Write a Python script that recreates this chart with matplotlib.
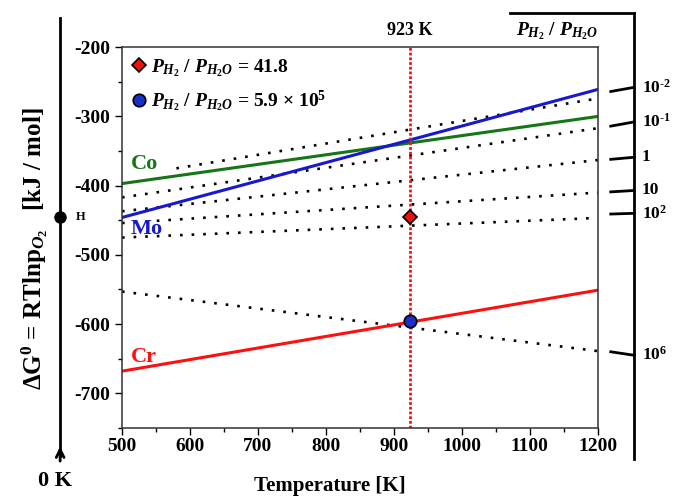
import matplotlib
matplotlib.use('Agg')
from matplotlib import pyplot as plt
from matplotlib.lines import Line2D

plt.rcParams['font.family'] = ['Liberation Serif', 'DejaVu Serif']
plt.rcParams['font.weight'] = 'bold'
plt.rcParams['axes.labelweight'] = 'bold'
plt.rcParams['axes.unicode_minus'] = False
plt.rcParams['mathtext.fontset'] = 'custom'
plt.rcParams['mathtext.rm'] = 'Liberation Serif:bold'
plt.rcParams['mathtext.it'] = 'Liberation Serif:bold:italic'
plt.rcParams['mathtext.bf'] = 'Liberation Serif:bold'

# oxide lines (end points at 500 K and 1200 K)
temp_ends = [500, 1200]
co_vals = [-397, -300]
mo_vals = [-446, -261]
cr_vals = [-668, -551]

# P_H2/P_H2O iso-ratio lines (dotted)
ratio_temps = [[580, 1200], [500, 1200], [500, 1200], [500, 1200], [500, 1190], [500, 1200]]
ratio_vals = [[-375, -274], [-417, -317], [-437, -363], [-454, -410], [-475, -447], [-553, -639]]

# right-hand nomogram scale
scale_labels = [r'10$^{\text{-2}}$', r'10$^{\text{-1}}$', '1', '10', '10$^{2}$', '10$^{6}$']
scale_vals = [-258, -308, -359, -407, -440, -645]
scale_rise = [6, 6, 3, 2, 1, -5]

t_mark = 923
diamond_val = -445
circle_val = -596
h_val = -446

fig = plt.figure(figsize=(6.74, 4.97), dpi=100)
ax = fig.add_axes([0.181, 0.139, 0.706, 0.766])

for tt, vv in zip(ratio_temps, ratio_vals):
    ax.plot(tt, vv, color='black', lw=1.9, linestyle=(0, (1, 3.4)))

ax.plot(temp_ends, co_vals, color='#167516', lw=2.2)
ax.plot(temp_ends, mo_vals, color='#1818d0', lw=2.2)
ax.plot(temp_ends, cr_vals, color='#ff1010', lw=2.2)

ax.axvline(t_mark, color='#ff1010', lw=2, linestyle=(0, (1, 0.7)))
ax.plot([t_mark], [diamond_val], marker='D', ms=7, mfc='#ee1010', mec='black', mew=1.2, ls='none', zorder=5)
ax.plot([t_mark], [circle_val], marker='o', ms=9, mfc='#1a2ec8', mec='black', mew=1.2, ls='none', zorder=5)

ax.text(513, -368, 'Co', color='#167516', fontsize=16, va='center')
ax.text(513, -463, 'Mo', color='#1818d0', fontsize=16, va='center')
ax.text(513, -648, 'Cr', color='#ff1010', fontsize=16, va='center')

handles = [Line2D([], [], marker='D', ms=7, mfc='#ee1010', mec='black', mew=1.2, ls='none'),
           Line2D([], [], marker='o', ms=9, mfc='#1a2ec8', mec='black', mew=1.2, ls='none')]
labels = [r'$P_{H_2}$ / $P_{H_2O}$ = 41.8', r'$P_{H_2}$ / $P_{H_2O}$ = 5.9 $\times$ 10$^5$']
ax.legend(handles, labels, loc='upper left', frameon=False, fontsize=14,
          handlelength=0.7, handletextpad=0.3, borderaxespad=0.1, labelspacing=0.5)

ax.set_xlim(500, 1200)
ax.set_ylim(-750, -200)
ax.set_xticks(range(500, 1201, 100))
ax.set_xticks(range(550, 1200, 100), minor=True)
ax.set_yticks(range(-700, -199, 100))
ax.set_yticks(range(-750, -199, 100), minor=True)
ax.tick_params(axis='both', which='major', labelsize=14, length=5, width=1, direction='out')
ax.tick_params(axis='x', which='major', pad=2)
ax.tick_params(axis='both', which='minor', length=3, width=1, direction='out')
ax.tick_params(top=False, right=False)
for s in ax.spines.values():
    s.set_linewidth(1.1)
    s.set_color('#333333')
ax.set_xlabel('Temperature [K]', fontsize=15)
ax.xaxis.set_label_coords(0.437, -0.125)

# 923 K label and ratio scale title
ax.text(t_mark, -176, '923 K', ha='center', va='center', fontsize=13, clip_on=False)
ax.text(1200, -177, r'$P_{H_2}$ / $P_{H_2O}$', ha='right', va='center', fontsize=14, clip_on=False)

# right nomogram axis
ax.plot([1253, 1253], [-150, -795], color='black', lw=2, clip_on=False)
ax.plot([1071, 1253], [-150, -150], color='black', lw=2, clip_on=False)
for lab, v, r in zip(scale_labels, scale_vals, scale_rise):
    ax.plot([1219, 1253], [v - r, v], color='black', lw=2, clip_on=False)
    ax.text(1265, v, lab, ha='left', va='center', fontsize=12.5, clip_on=False)

# left temperature arrow axis (0 K at bottom)
ax.plot([409, 409], [-158, -790], color='black', lw=2, clip_on=False)
ax.annotate('', xy=(409, -773), xytext=(409, -802), annotation_clip=False,
            arrowprops=dict(arrowstyle='->', lw=2, color='black', mutation_scale=14))
ax.plot([409], [h_val], marker='o', ms=8, color='black', clip_on=False)
ax.text(432, h_val, 'H', fontsize=9, va='center', clip_on=False)
ax.text(401, -826, '0 K', ha='center', va='center', fontsize=16, clip_on=False)

fig.text(0.052, 0.50, r'ΔG$^{0}$ = RTlnp$_{O_2}$   [kJ / mol]', rotation=90,
         ha='center', va='center', fontsize=18)

fig.savefig('out.png', dpi=100)
